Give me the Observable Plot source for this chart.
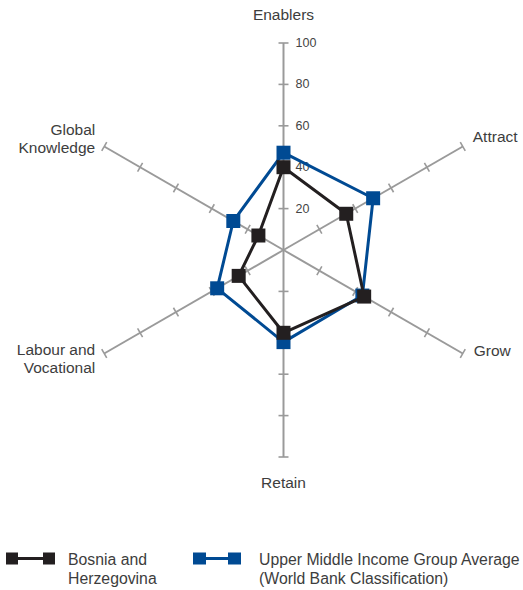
<!DOCTYPE html>
<html>
<head>
<meta charset="utf-8">
<script src="https://cdn.jsdelivr.net/npm/d3@7"></script>
<script src="https://cdn.jsdelivr.net/npm/@observablehq/plot@0.6"></script>
<style>
  body { margin: 0; background: #fff; font-family: "Liberation Sans", Arial, sans-serif; }
  #wrap { position: relative; width: 523px; height: 590px; }
  #chart { position: absolute; left: 0; top: 0; }
  .leg-sym { position: absolute; }
  .leg-txt { position: absolute; font-size: 15.8px; line-height: 19px; color: #3d3d3d; white-space: nowrap; }
</style>
</head>
<body>
<div id="wrap">
  <div id="chart"></div>
  <svg class="leg-sym" style="left:6px; top:552px" width="50" height="13">
    <rect x="0" y="0.5" width="12" height="12" fill="#231f20"></rect>
    <line x1="12" x2="37" y1="6.5" y2="6.5" stroke="#231f20" stroke-width="3"></line>
    <rect x="37" y="0.5" width="12" height="12" fill="#231f20"></rect>
  </svg>
  <div class="leg-txt" id="leg1" style="left:68px; top:550px"></div>
  <svg class="leg-sym" style="left:193px; top:552px" width="50" height="13">
    <rect x="0" y="0.5" width="13" height="12" fill="#004a93"></rect>
    <line x1="13" x2="35" y1="6.5" y2="6.5" stroke="#004a93" stroke-width="3"></line>
    <rect x="35" y="0.5" width="13" height="12" fill="#004a93"></rect>
  </svg>
  <div class="leg-txt" id="leg2" style="left:259px; top:550px"></div>
</div>
<script>
// ---- data ----
const axes = ["Enablers", "Attract", "Grow", "Retain", "Labour and Vocational", "Global Knowledge"];
const axisLabels = ["Enablers", "Attract", "Grow", "Retain", "Labour and\nVocational", "Global\nKnowledge"];
const seriesNames = ["Bosnia and Herzegovina", "Upper Middle Income Group Average (World Bank Classification)"];
const legendLines = [["Bosnia and", "Herzegovina"], ["Upper Middle Income Group Average", "(World Bank Classification)"]];
const bosnia = [40, 35, 45, 40, 25, 14];
const umic = [47, 50, 44, 44.5, 37, 28];
const tickValues = [20, 40, 60, 80, 100];
const tickLabels = ["20", "40", "60", "80", "100"];
const maxValue = 100;

// ---- layout / style ----
const W = 523, H = 530;
const cx = 283, cy = 249.5, k = 2.07; // px per unit
const colors = { [seriesNames[0]]: "#231f20", [seriesNames[1]]: "#004a93" };
const axisColor = "#9a9a9a";
const textColor = "#3d3d3d";
const labelPlacement = [
  { textAnchor: "middle", dx: 0, dy: -29 },
  { textAnchor: "start", dx: 10, dy: -10 },
  { textAnchor: "start", dx: 11, dy: -3.5 },
  { textAnchor: "middle", dx: 0, dy: 25.5 },
  { textAnchor: "end", dx: -9, dy: 4.5 },
  { textAnchor: "end", dx: -9, dy: -8.5 }
];

const ang = i => i * Math.PI / 3;
const px = (i, v) => v * Math.sin(ang(i));
const py = (i, v) => v * Math.cos(ang(i));

const axisRows = axes.map((name, i) => ({ name, i, label: axisLabels[i] }));
const tickRows = axes.flatMap((name, i) => tickValues.map(v => ({ i, v })));
const h = 5 / k;
const series = [
  ...axes.map((a, i) => ({ series: seriesNames[1], i, value: umic[i] })),
  ...axes.map((a, i) => ({ series: seriesNames[0], i, value: bosnia[i] }))
];
const blueRows = series.filter(d => d.series === seriesNames[1]);
const blackRows = series.filter(d => d.series === seriesNames[0]);

const marks = [
  Plot.link(axisRows, {
    x1: 0, y1: 0,
    x2: d => px(d.i, maxValue), y2: d => py(d.i, maxValue),
    stroke: axisColor, strokeWidth: 2
  }),
  Plot.link(tickRows, {
    x1: d => px(d.i, d.v) - h * Math.cos(ang(d.i)),
    y1: d => py(d.i, d.v) + h * Math.sin(ang(d.i)),
    x2: d => px(d.i, d.v) + h * Math.cos(ang(d.i)),
    y2: d => py(d.i, d.v) - h * Math.sin(ang(d.i)),
    stroke: axisColor, strokeWidth: 1.6
  }),
  Plot.text(tickValues.map((v, j) => ({ v, t: tickLabels[j] })), {
    x: 0, y: d => d.v, text: d => d.t,
    textAnchor: "start", dx: 12, fontSize: 12.5, fill: "#444"
  }),
  ...axisRows.map((d, i) => Plot.text([d], {
    x: r => px(r.i, maxValue), y: r => py(r.i, maxValue), text: r => r.label,
    textAnchor: labelPlacement[i].textAnchor, dx: labelPlacement[i].dx, dy: labelPlacement[i].dy,
    lineAnchor: "middle", lineHeight: 1.2,
    fontSize: 15.5, fill: textColor
  })),
  ...[blueRows, blackRows].flatMap(rows => [
    Plot.line(rows, {
      x: d => px(d.i, d.value), y: d => py(d.i, d.value),
      stroke: d => colors[d.series], curve: "linear-closed", strokeWidth: 3, strokeLinejoin: "miter"
    }),
    Plot.dot(rows, {
      x: d => px(d.i, d.value), y: d => py(d.i, d.value),
      symbol: "square", r: 7.9, fill: d => colors[d.series], stroke: "none"
    })
  ])
];

const chart = Plot.plot({
  width: W, height: H, margin: 0,
  x: { type: "linear", domain: [-cx / k, (W - cx) / k], range: [0, W], axis: null },
  y: { type: "linear", domain: [-(H - cy) / k, cy / k], range: [H, 0], axis: null },
  color: { type: "identity" },
  style: { fontFamily: "'Liberation Sans', Arial, sans-serif", background: "#fff", overflow: "visible" },
  marks
});
document.getElementById("chart").appendChild(chart);
document.getElementById("leg1").innerHTML = legendLines[0].join("<br>");
document.getElementById("leg2").innerHTML = legendLines[1].join("<br>");
</script>
</body>
</html>
